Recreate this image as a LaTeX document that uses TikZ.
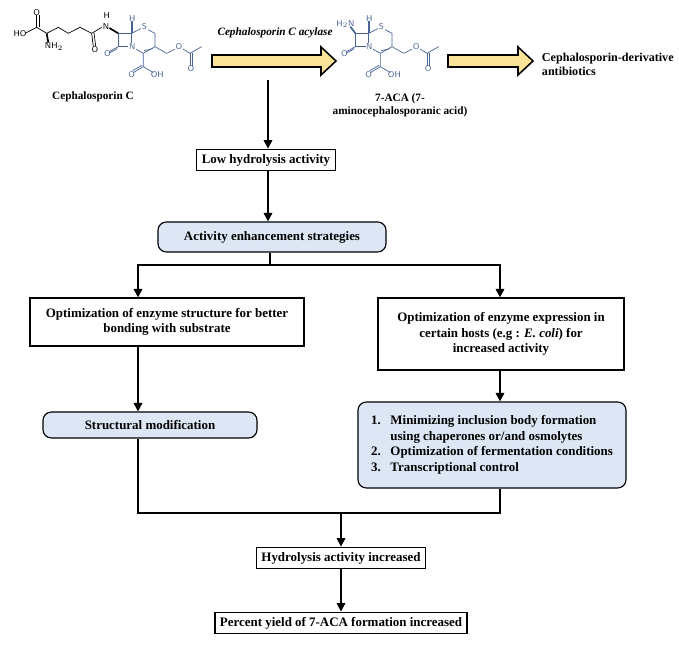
\documentclass[tikz,border=0pt]{standalone}
\usepackage{fontspec}
\setmainfont{Liberation Serif}
\usetikzlibrary{arrows.meta, positioning, calc}
\definecolor{chem_blue}{RGB}{72, 100, 150}
\definecolor{box_blue}{RGB}{221, 230, 244}
\definecolor{arr_yellow}{RGB}{250, 226, 150}
% ring system shared by both molecules (local units: 1 = 1/3 px)
\newcommand{\cephcore}{%
  \draw (355,100) -- (395,100) -- (395,140) -- (355,140) -- cycle;
  \draw (395,100) -- (430,82) -- (465,100) -- (465,140) -- (430,160) -- (395,140);
  \draw ($(465,140)+(-6,6)$) -- ($(430,160)+(2,-8)$);
  \draw (355,140) -- (328,155); \draw (352,146) -- (330,158);
  \draw (430,160) -- (430,200) -- (400,218); \draw (426,196) -- (398,212);
  \draw (430,200) -- (460,218);
  \draw (465,140) -- (500,160) -- (530,145); \draw (545,145) -- (570,160) -- (605,140);
  \draw (570,160) -- (570,198); \draw (577,160) -- (577,198);
  \draw[line width=1.2pt] (395,100) -- (395,62);
  \node[font=\fontsize{6}{6}\sffamily] at (397,55) {H};
  \node[font=\fontsize{6}{6}\sffamily, fill=white, inner sep=0.5pt] at (433,80) {S};
  \node[font=\fontsize{6}{6}\sffamily, fill=white, inner sep=0.5pt] at (397,140) {N};
  \node[font=\fontsize{6}{6}\sffamily] at (322,162) {O};
  \node[font=\fontsize{6}{6}\sffamily] at (395,225) {O};
  \node[font=\fontsize{6}{6}\sffamily] at (472,225) {OH};
  \node[font=\fontsize{6}{6}\sffamily, fill=white, inner sep=0.5pt] at (537,140) {O};
  \node[font=\fontsize{6}{6}\sffamily] at (573,207) {O};
}
\begin{document}
\begin{tikzpicture}[x=0.025cm, y=-0.025cm,
    font=\fontsize{9.2}{11}\selectfont\bfseries,
    box/.style={draw, thick, align=center, inner sep=3.5pt},
    bluebox/.style={box, rounded corners=6pt, fill=box_blue},
    arr/.style={-{Triangle[length=6pt, width=6pt]}, line width=1.3pt},
    link/.style={line width=1.3pt},
    fatarrow/.style={draw, line width=1.1pt, fill=arr_yellow}]
  \useasboundingbox (0,0) rectangle (679,661);
  % Molecules
  \begin{scope}[x=0.025cm/3, y=-0.025cm/3, line width=0.5pt]
    \draw (75,100) -- (110,82) -- (140,100) -- (175,82) -- (205,100) -- (240,82) -- (275,100) -- (305,82);
    \draw (110,82) -- (110,45); \draw (117,82) -- (117,45);
    \draw (275,100) -- (280,140); \draw (282,98) -- (287,138);
    \draw[line width=1.2pt] (140,100) -- (145,128);
    \node[font=\fontsize{6}{6}\sffamily] at (110,38) {O};
    \node[font=\fontsize{6}{6}\sffamily] at (60,102) {HO};
    \node[font=\fontsize{6}{6}\sffamily] at (162,140) {NH$_2$};
    \node[font=\fontsize{6}{6}\sffamily] at (285,148) {O};
    \node[font=\fontsize{6}{6}\sffamily] at (318,80) {N};
    \node[font=\fontsize{6}{6}\sffamily] at (320,47) {H};
    \begin{scope}[chem_blue]
      \draw[line width=1.2pt, black] (328,84) -- (355,100);
      \cephcore
    \end{scope}
    \begin{scope}[chem_blue, xshift=5.925cm]
      \draw[line width=1.2pt] (340,80) -- (355,100);
      \node[font=\fontsize{6}{6}\sffamily] at (325,72) {H$_2$N};
      \cephcore
    \end{scope}
  \end{scope}
  \node[font=\fontsize{8}{9.5}\selectfont\bfseries] (cephc) at (93,97) {Cephalosporin C};
  \node[font=\fontsize{8}{9.5}\selectfont\bfseries, align=center] (aca) at (400,105)
    {7-ACA (7-\\aminocephalosporanic acid)};
  \node[font=\fontsize{8}{9.5}\selectfont\bfseries\itshape] (enz) at (275,33) {Cephalosporin C acylase};
  \node[font=\fontsize{8.6}{10}\selectfont\bfseries, align=left, anchor=west] (anti) at (537,64)
    {Cephalosporin-derivative\\antibiotics};
  % Yellow arrows
  \draw[fatarrow] (212,55) -- (321,55) -- (321,47) -- (336,61) -- (321,75) -- (321,67) -- (212,67) -- cycle;
  \draw[fatarrow] (448,55) -- (518,55) -- (518,47) -- (533,61) -- (518,75) -- (518,67) -- (448,67) -- cycle;
  % Flow boxes
  \node[box] (low) at (266,160) {Low hydrolysis activity};
  \node[bluebox, minimum width=5.7cm, minimum height=0.75cm] (aes) at (272,237) {Activity enhancement strategies};
  \node[box, minimum width=6.85cm, minimum height=1.2cm] (opt1) at (167,322)
    {Optimization of enzyme structure for better\\bonding with substrate};
  \node[box, minimum width=6.15cm, minimum height=1.8cm] (opt2) at (501,334)
    {Optimization of enzyme expression in\\certain hosts (e.g : \textit{E. coli}) for\\increased activity};
  \node[bluebox, minimum width=5.35cm, minimum height=0.65cm] (smod) at (150,425) {Structural modification};
  \node[bluebox, minimum width=6.7cm, minimum height=2.15cm, align=left] (ctrl) at (492,445)
    {1.\enspace\ Minimizing inclusion body formation\\\phantom{1.\enspace\ }using chaperones or/and osmolytes\\
     2.\enspace\ Optimization of fermentation conditions\\3.\enspace\ Transcriptional control};
  \node[box] (hyd) at (341,558) {Hydrolysis activity increased};
  \node[box] (yield) at (341,623) {Percent yield of 7-ACA formation increased};
  % Connectors
  \coordinate (top) at (268,80);
  \coordinate (split) at (270,265);
  \coordinate (join) at (341,513);
  \draw[arr] (top) -- (top |- low.north);
  \draw[arr] (low.south -| top) -- (top |- aes.north);
  \draw[link] (aes.south -| split) -- (split);
  \draw[arr] (split) -| (opt1.north -| 138,0);
  \draw[arr] (split) -| (opt2.north -| 500,0);
  \draw[arr] (opt1.south -| 138,0) -- (smod.north -| 138,0);
  \draw[arr] (opt2.south -| 500,0) -- (ctrl.north -| 500,0);
  \draw[link] (smod.south -| 138,0) |- (join) -| (ctrl.south -| 500,0);
  \draw[arr] (join) -- (hyd);
  \draw[arr] (hyd) -- (yield);
\end{tikzpicture}
\end{document}
